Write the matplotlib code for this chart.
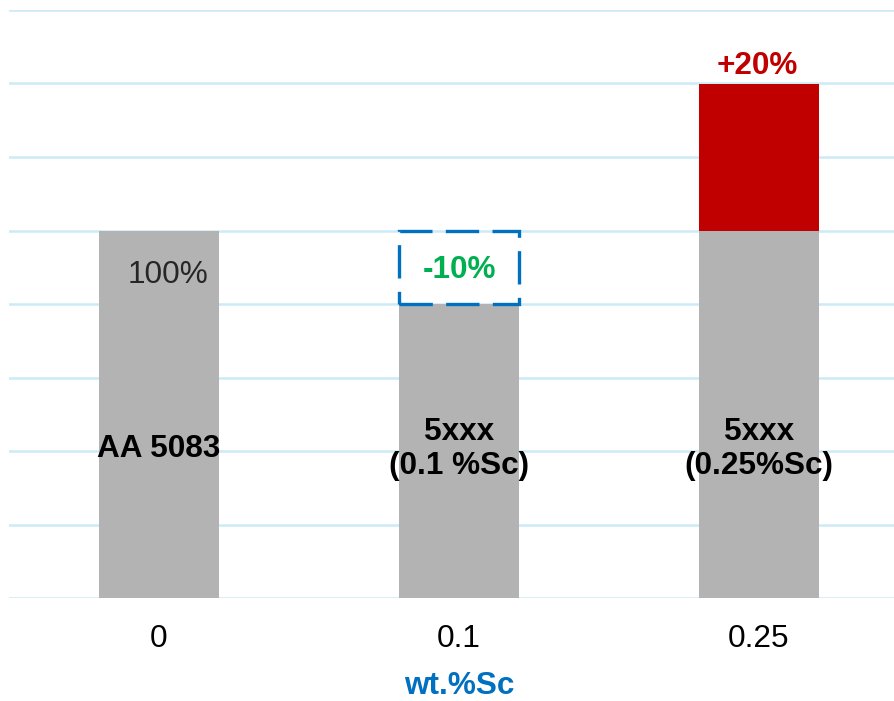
import matplotlib
matplotlib.use("Agg")
import matplotlib.pyplot as plt
from matplotlib.patches import Rectangle

plt.rcParams['font.family'] = ['Liberation Sans', 'DejaVu Sans']

# Data
categories = ["0", "0.1", "0.25"]
base_values = [100, 90, 100]          # relative strength, %
gain_values = [0, 0, 20]              # extra on top of the base bar
loss_values = [0, 10, 0]              # missing part, shown as a dashed box
bar_names = ["AA 5083", "5xxx\n(0.1 %Sc)", "5xxx\n(0.25%Sc)"]
change_labels = ["", "-10%", "+20%"]
y_min, y_max, y_step = 50, 130, 10

GRAY = "#B3B3B3"
RED = "#C00000"
BLUE = "#0070C0"
GREEN = "#00B050"
GRID = "#CDEAF7"
FS = 22.7

W, H = 895, 701
fig = plt.figure(figsize=(W / 100, H / 100), dpi=100)
ax = fig.add_axes([9 / W, (H - 598) / H, 900 / W, 588 / H])

x = list(range(len(categories)))
bw = 0.4

ax.set_xlim(-0.5, len(categories) - 0.5)
ax.set_ylim(y_min, y_max)
ax.set_yticks(range(y_min, y_max + 1, y_step))
ax.yaxis.grid(True, color=GRID, linewidth=1.8)
ax.set_axisbelow(True)
for s in ax.spines.values():
    s.set_visible(False)
ax.tick_params(axis='y', left=False, labelleft=False)
ax.tick_params(axis='x', bottom=False, labelsize=FS, pad=15, labelcolor="black")
ax.set_xticks(x)
ax.set_xticklabels(categories)

# Base bars (drawn from the axis floor)
ax.bar(x, [b - y_min for b in base_values], bottom=y_min, width=bw, color=GRAY, zorder=2)
# Gain segments
ax.bar(x, gain_values, bottom=base_values, width=bw, color=RED, zorder=2)

# Loss boxes (dashed outline)
for xi, b, l in zip(x, base_values, loss_values):
    if l > 0:
        rect = Rectangle((xi - bw / 2, b), bw, l, fill=False, edgecolor=BLUE,
                         linewidth=2.4, linestyle=(0, (10, 4)), zorder=3, clip_on=False)
        ax.add_patch(rect)

# Reference label on the first bar
ax.text(x[0] + 0.03, base_values[0] - 6.1, f"{base_values[0]}%", ha="center", va="center",
        fontsize=FS, color="#262626", zorder=4)

# Change labels
for xi, b, g, l, txt in zip(x, base_values, gain_values, loss_values, change_labels):
    if l > 0:
        ax.text(xi, b + l / 2 - 0.4, txt, ha="center", va="center", fontsize=FS,
                fontweight="bold", color=GREEN, zorder=4)
    if g > 0:
        ax.text(xi - 0.007, b + g + 2.4, txt, ha="center", va="center", fontsize=FS,
                fontweight="bold", color=RED, zorder=4)

# Alloy names inside the bars
for xi, name in zip(x, bar_names):
    ax.text(xi, 70.3, name, ha="center", va="center", fontsize=FS,
            fontweight="bold", color="black", linespacing=1.15, zorder=4)

ax.set_xlabel("wt.%Sc", fontsize=FS, fontweight="bold", color=BLUE)
ax.xaxis.label.set_va("center")
ax.xaxis.set_label_coords((459 - 9) / 900, -(686 - 598) / 588)

fig.savefig("out.png", dpi=100)
